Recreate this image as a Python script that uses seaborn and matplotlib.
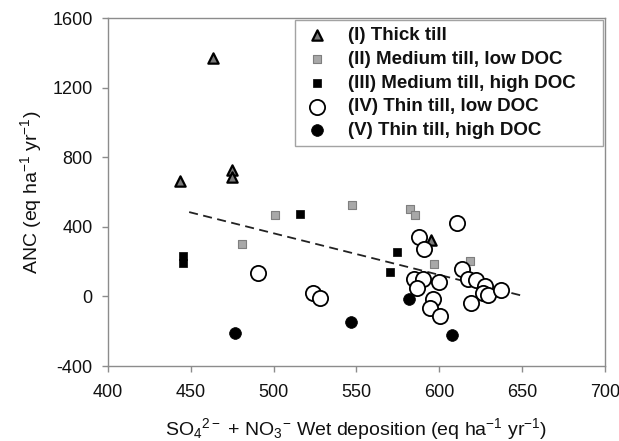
import numpy as np
import pandas as pd
import matplotlib
matplotlib.use('Agg')
import matplotlib.pyplot as plt
import seaborn as sns

sns.set_style('ticks')
plt.rcParams['font.family'] = ['Liberation Sans', 'DejaVu Sans']
plt.rcParams['mathtext.fontset'] = 'custom'
plt.rcParams['mathtext.rm'] = 'Liberation Sans'
plt.rcParams['mathtext.it'] = 'Liberation Sans'
plt.rcParams['axes.unicode_minus'] = False

# Data (x: SO4 + NO3 wet deposition, y: ANC)
thick_x = [443.5, 463.2, 474.6, 474.6, 595.3]
thick_y = [663, 1369, 727, 686, 324]

med_low_x = [480.7, 500.8, 547.4, 582.6, 585.3, 596.7, 618.9]
med_low_y = [299, 468, 525, 505, 468, 184, 201]

med_high_x = [445.4, 445.4, 515.9, 574.8, 570.6]
med_high_y = [232, 194, 476, 257, 142]

thin_low_x = [490.7, 523.9, 528.0, 587.9, 590.7, 610.8, 584.9, 590.4, 586.4, 599.8,
              596.3, 594.3, 600.4, 614.0, 617.5, 622.4, 627.5, 626.5, 629.5, 637.5, 619.4]
thin_low_y = [136, 21, -8, 343, 274, 424, 98, 98, 50, 85,
              -17, -65, -113, 155, 98, 92, 59, 21, 11, 35, -40]

thin_high_x = [476.6, 547.0, 581.6, 607.8]
thin_high_y = [-209, -148, -12, -219]

# trend line (as drawn in the figure)
trend_intercept = 1558
trend_slope = -2.39
trend_x = [449, 650]

groups = [
    ('(I) Thick till', thick_x, thick_y, dict(marker='^', s=55, color='#7a7a7a', edgecolor='black', linewidth=1.6)),
    ('(II) Medium till, low DOC', med_low_x, med_low_y, dict(marker='s', s=30, color='#a8a8a8', edgecolor='#7f7f7f', linewidth=0.8)),
    ('(III) Medium till, high DOC', med_high_x, med_high_y, dict(marker='s', s=28, color='black', edgecolor='black', linewidth=0.5)),
    ('(IV) Thin till, low DOC', thin_low_x, thin_low_y, dict(marker='o', s=120, color='white', edgecolor='black', linewidth=1.3)),
    ('(V) Thin till, high DOC', thin_high_x, thin_high_y, dict(marker='o', s=72, color='black', edgecolor='black', linewidth=0.5)),
]

fig = plt.figure(figsize=(6.19, 4.41), dpi=100)
ax = fig.add_axes([0.1745, 0.170, 0.8025, 0.789])

for name, xs, ys, kw in groups:
    df = pd.DataFrame({'x': xs, 'y': ys})
    sns.scatterplot(data=df, x='x', y='y', ax=ax, label=name, zorder=3, **kw)

tx = np.array(trend_x)
ax.plot(tx, trend_intercept + trend_slope * tx, color='#222222', linestyle=(0, (5, 3)),
        linewidth=1.3, zorder=2)

ax.set_xlim(400, 700)
ax.set_ylim(-400, 1600)
ax.set_xticks(range(400, 701, 50))
ax.set_yticks(range(-400, 1601, 400))

for sp in ax.spines.values():
    sp.set_color('#8c8c8c')
    sp.set_linewidth(1.0)
ax.tick_params(colors='#8c8c8c', labelcolor='#111111', labelsize=13, length=4, width=1.0, pad=7)
ax.tick_params(axis='x', pad=9)

ax.set_xlabel('SO$_4$$^{2-}$ + NO$_3$$^{-}$ Wet deposition (eq ha$^{-1}$ yr$^{-1}$)',
              fontsize=14, labelpad=11, color='#111111')
ax.set_ylabel('ANC (eq ha$^{-1}$ yr$^{-1}$)', fontsize=14, labelpad=6, color='#111111')

leg = ax.legend(loc='upper left', bbox_to_anchor=(0.376, 0.0, 0.62, 0.994), mode='expand',
                frameon=True, fancybox=False, edgecolor='#8c8c8c',
                prop={'weight': 'bold', 'size': 13.5},
                handletextpad=0.8, borderpad=0.35, labelspacing=0.36, handlelength=1.7,
                borderaxespad=0)
leg.get_frame().set_linewidth(1.0)
for t in leg.get_texts():
    t.set_color('#111111')

fig.savefig('out.png', dpi=100)
